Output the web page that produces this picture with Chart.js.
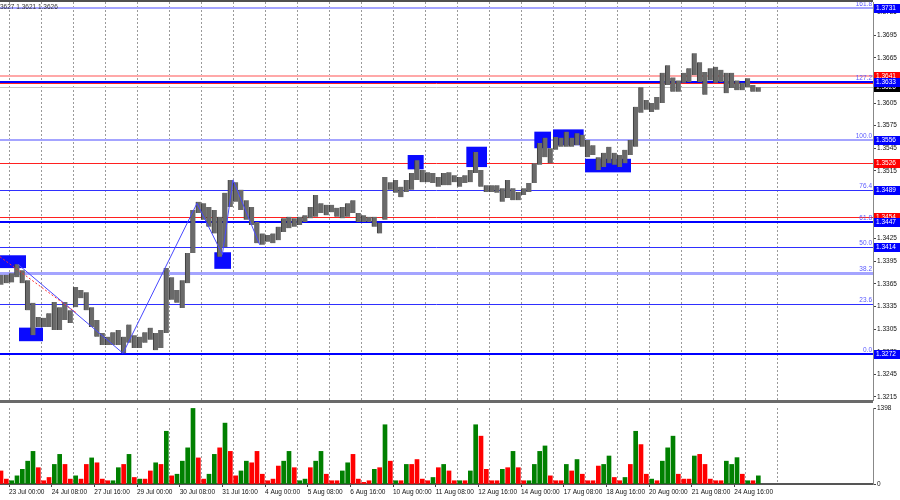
<!DOCTYPE html>
<html>
<head>
<meta charset="utf-8">
<script src="https://cdn.jsdelivr.net/npm/chart.js@4.4.0/dist/chart.umd.min.js"></script>
<style>
body { margin: 0; background: #fff; }
#wrap { position: relative; width: 900px; height: 500px; overflow: hidden; }
canvas { position: absolute; left: 0; }
#main { top: 0; }
#vol { top: 403px; }
</style>
</head>
<body>
<div id="wrap">
  <canvas id="main" width="900" height="403"></canvas>
  <canvas id="vol" width="900" height="97"></canvas>
</div>
<script>
// H1 bars, grouped in 4-hour buckets. Bar 0 = 23 Jul 00:00, first bucket starts at bar -8
const firstBucket = -2;

const lows = [
  1.3364, 1.3366, 1.3367, 1.3374, 1.3366, 1.3330, 1.3297, 1.3308,
  1.3308, 1.3308, 1.3304, 1.3304, 1.3317, 1.3313,
  1.3334, 1.3346, 1.3330, 1.3308, 1.3295, 1.3284,
  1.3284, 1.3284, 1.3284, 1.3273, 1.3287, 1.3280,
  1.3280, 1.3287, 1.3291, 1.3277, 1.3280, 1.3300,
  1.3344, 1.3340, 1.3333, 1.3366, 1.3406, 1.3459,
  1.3450, 1.3441, 1.3432, 1.3401, 1.3414, 1.3467,
  1.3474, 1.3463, 1.3450, 1.3443, 1.3419, 1.3417,
  1.3421, 1.3419, 1.3423, 1.3434, 1.3439, 1.3441,
  1.3443, 1.3447, 1.3452, 1.3454, 1.3459, 1.3456,
  1.3460, 1.3454, 1.3452, 1.3454, 1.3459, 1.3447,
  1.3447, 1.3447, 1.3441, 1.3432, 1.3450, 1.3490,
  1.3486, 1.3480, 1.3487, 1.3490, 1.3503, 1.3500,
  1.3500, 1.3499, 1.3494, 1.3496, 1.3496, 1.3500,
  1.3494, 1.3499, 1.3500, 1.3512, 1.3494, 1.3487,
  1.3487, 1.3486, 1.3474, 1.3479, 1.3476, 1.3476,
  1.3483, 1.3487, 1.3499, 1.3523, 1.3533, 1.3525,
  1.3543, 1.3547, 1.3547, 1.3547, 1.3549, 1.3547,
  1.3533, 1.3536, 1.3516, 1.3520, 1.3525, 1.3523,
  1.3520, 1.3525, 1.3536, 1.3547, 1.3592, 1.3596,
  1.3593, 1.3596, 1.3605, 1.3629, 1.3620, 1.3620,
  1.3632, 1.3633, 1.3642, 1.3633, 1.3616, 1.3635,
  1.3632, 1.3633, 1.3618, 1.3625, 1.3622, 1.3622,
  1.3626, 1.3620, 1.3620
];
const highs = [
  1.3377, 1.3377, 1.3379, 1.3391, 1.3383, 1.3370, 1.3340, 1.3321,
  1.3320, 1.3326, 1.3341, 1.3334, 1.3341, 1.3330,
  1.3361, 1.3357, 1.3354, 1.3334, 1.3317, 1.3300,
  1.3295, 1.3301, 1.3304, 1.3295, 1.3311, 1.3297,
  1.3295, 1.3301, 1.3307, 1.3300, 1.3304, 1.3386,
  1.3374, 1.3357, 1.3370, 1.3406, 1.3463, 1.3474,
  1.3472, 1.3467, 1.3463, 1.3454, 1.3486, 1.3503,
  1.3500, 1.3490, 1.3476, 1.3467, 1.3447, 1.3432,
  1.3430, 1.3432, 1.3441, 1.3452, 1.3454, 1.3452,
  1.3454, 1.3456, 1.3467, 1.3483, 1.3472, 1.3470,
  1.3470, 1.3466, 1.3467, 1.3472, 1.3476, 1.3459,
  1.3456, 1.3454, 1.3454, 1.3446, 1.3507, 1.3500,
  1.3503, 1.3494, 1.3503, 1.3512, 1.3529, 1.3516,
  1.3513, 1.3512, 1.3507, 1.3512, 1.3513, 1.3509,
  1.3507, 1.3509, 1.3516, 1.3540, 1.3516, 1.3496,
  1.3496, 1.3496, 1.3492, 1.3503, 1.3492, 1.3487,
  1.3492, 1.3499, 1.3525, 1.3552, 1.3559, 1.3545,
  1.3560, 1.3559, 1.3567, 1.3559, 1.3565, 1.3563,
  1.3556, 1.3549, 1.3533, 1.3539, 1.3547, 1.3539,
  1.3536, 1.3543, 1.3556, 1.3600, 1.3626, 1.3609,
  1.3605, 1.3613, 1.3645, 1.3655, 1.3639, 1.3635,
  1.3645, 1.3651, 1.3671, 1.3659, 1.3646, 1.3651,
  1.3653, 1.3649, 1.3645, 1.3645, 1.3635, 1.3632,
  1.3638, 1.3629, 1.3626
];
const volumes = [
  240, 90, 60, 150, 270, 420, 600, 300,
  60, 120, 360, 545, 360, 90,
  150, 90, 360, 480, 390, 90,
  60, 60, 300, 360, 545, 120,
  90, 90, 240, 390, 360, 970,
  150, 180, 420, 665, 1390, 480,
  90, 180, 545, 665, 1120, 600,
  150, 240, 420, 390, 600, 180,
  60, 90, 330, 420, 600, 300,
  60, 90, 300, 420, 600, 180,
  60, 60, 240, 390, 545, 90,
  30, 60, 270, 300, 1090, 420,
  60, 60, 360, 360, 450, 90,
  60, 120, 300, 360, 240, 60,
  60, 60, 240, 1090, 880, 270,
  60, 60, 270, 300, 600, 300,
  60, 60, 360, 600, 700, 150,
  60, 60, 360, 240, 450, 180,
  60, 60, 330, 360, 515, 120,
  60, 120, 360, 970, 725, 180,
  90, 60, 420, 665, 880, 180,
  90, 90, 515, 545, 360, 90,
  60, 60, 420, 360, 485, 180,
  60, 60, 150
];
// g = up bar, r = down bar
const volDir = ('rrgggggr' + 'rrggrr' + 'grrgrr' + 'rggrgr' + 'grrgrg' + 'rggggr' + 'rggrgr' +
  'rggrrr' + 'rrrggr' + 'ggrggr' + 'rrggrr' + 'rrgrgr' + 'grgrrr' + 'rgrgrr' + 'grggrr' +
  'rrgrgr' + 'rggggr' + 'rrgrgr' + 'rrrggr' + 'rgrgrr' + 'grgggr' + 'rrgrrr' + 'rrgggr' + 'grg').split('');

// zigzag and trend line (bar index, price)
const zigBars = [6.75, 85.5, 141, 160, 168, 188];
const zigPrices = [1.3391, 1.3273, 1.3472, 1.3404, 1.3503, 1.3417];
const trendBars = [-6.75, 51];
const trendPrices = [1.3401, 1.3326];

// blue zones
const boxStart = [-7, 7.5, 154, 299, 343, 394, 408, 432];
const boxEnd = [12.75, 25.5, 166.5, 311, 358.5, 406.5, 431, 466.5];
const boxTop = [1.3403, 1.3307, 1.3407, 1.3536, 1.3547, 1.3567, 1.3570, 1.3531];
const boxBottom = [1.3386, 1.3289, 1.3385, 1.3517, 1.3520, 1.3545, 1.3549, 1.3513];

// levels
const fiboPrices = [1.3272, 1.3339, 1.3380, 1.3414, 1.3447, 1.3489, 1.3556, 1.3633, 1.3731];
const fiboNames = ['0.0', '23.6', '38.2', '50.0', '61.8', '76.4', '100.0', '127.2', '161.8'];
const redLevels = [1.3641, 1.3631, 1.3526, 1.3454];
const bidPrice = 1.3626;
const blueTags = [1.3731, 1.3633, 1.3556, 1.3489, 1.3447, 1.3414, 1.3272];
const redTags = [1.3641, 1.3526, 1.3454];

// axes
const priceTicks = [1.3215, 1.3245, 1.3275, 1.3305, 1.3335, 1.3365, 1.3395, 1.3425, 1.3455,
  1.3485, 1.3515, 1.3545, 1.3575, 1.3605, 1.3635, 1.3665, 1.3695, 1.3725];
const volTicks = [0, 1398];
const labelBars = [0, 32, 64, 96, 128, 160, 192, 224, 256, 288, 320, 352, 384, 416, 448, 480, 512, 544];
const timeLabels = ['23 Jul 00:00', '24 Jul 08:00', '27 Jul 16:00', '29 Jul 00:00', '30 Jul 08:00',
  '31 Jul 16:00', '4 Aug 00:00', '5 Aug 08:00', '6 Aug 16:00', '10 Aug 00:00', '11 Aug 08:00',
  '12 Aug 16:00', '14 Aug 00:00', '17 Aug 08:00', '18 Aug 16:00', '20 Aug 00:00', '21 Aug 08:00',
  '24 Aug 16:00'];
const headerText = '3627 1.3621 1.3626';

const X_MIN = -6.75, X_MAX = 648;
const FONT = 'Liberation Sans';
const bucketCenter = i => (firstBucket + i) * 4 + 2;

// fibo line styles by level index
const fiboStyle = [
  ['#0000ff', 2], ['#2f2fff', 1], ['#a4a4ff', 3], ['#2f2fff', 1], ['#0000ff', 2],
  ['#2f2fff', 1], ['#a4a4ff', 2], ['#0000ff', 2], ['#a4a4ff', 2]
];

function dayGrid(chart) {
  const ctx = chart.ctx, x = chart.scales.x, a = chart.chartArea;
  ctx.save();
  ctx.strokeStyle = '#9a9a9a';
  ctx.lineWidth = 1;
  ctx.setLineDash([2, 2]);
  for (let k = 0; k <= 24; k++) {
    const px = Math.round(x.getPixelForValue(k * 24)) + 0.5;
    ctx.beginPath();
    ctx.moveTo(px, a.top);
    ctx.lineTo(px, a.bottom);
    ctx.stroke();
  }
  ctx.restore();
}

function hline(ctx, a, py, color, w) {
  ctx.strokeStyle = color;
  ctx.lineWidth = w;
  const yy = w % 2 ? Math.round(py) + 0.5 : Math.round(py);
  ctx.beginPath();
  ctx.moveTo(a.left, yy);
  ctx.lineTo(a.right, yy);
  ctx.stroke();
}

function tag(ctx, a, py, price, bg) {
  ctx.fillStyle = bg;
  ctx.fillRect(a.right + 1, Math.round(py) - 4, 26, 9);
  ctx.fillStyle = '#fff';
  ctx.font = '6.5px ' + FONT;
  ctx.textBaseline = 'middle';
  ctx.textAlign = 'left';
  ctx.fillText(price.toFixed(4), a.right + 3, Math.round(py) + 0.5);
}

const mainPlugin = {
  id: 'mainPlugin',
  beforeDatasetsDraw(chart) {
    const ctx = chart.ctx, x = chart.scales.x, y = chart.scales.y, a = chart.chartArea;
    dayGrid(chart);
    ctx.save();
    hline(ctx, a, y.getPixelForValue(bidPrice), '#c4c4c4', 1);
    fiboPrices.forEach((p, i) => hline(ctx, a, y.getPixelForValue(p), fiboStyle[i][0], fiboStyle[i][1]));
    hline(ctx, a, y.getPixelForValue(redLevels[0]), '#ffa8a8', 2);
    redLevels.slice(1).forEach(p => hline(ctx, a, y.getPixelForValue(p), '#ff2020', 1));
    ctx.font = '6.5px ' + FONT;
    ctx.fillStyle = '#5a5aff';
    ctx.textAlign = 'right';
    ctx.textBaseline = 'bottom';
    fiboPrices.forEach((p, i) => ctx.fillText(fiboNames[i], a.right - 1, Math.round(y.getPixelForValue(p)) - 1));
    // zones
    ctx.fillStyle = '#0a0aff';
    boxStart.forEach((s, i) => {
      const x0 = x.getPixelForValue(s), x1 = x.getPixelForValue(boxEnd[i]);
      const y0 = y.getPixelForValue(boxTop[i]), y1 = y.getPixelForValue(boxBottom[i]);
      ctx.fillRect(x0, y0, x1 - x0, y1 - y0);
    });
    ctx.restore();
  },
  afterDraw(chart) {
    const ctx = chart.ctx, y = chart.scales.y, a = chart.chartArea;
    ctx.save();
    // frame
    ctx.fillStyle = '#505050';
    ctx.fillRect(0, 0, a.right, 2);
    ctx.fillStyle = '#6a6a6a';
    ctx.fillRect(0, 400, a.right, 3);
    // price tags on the scale
    tag(ctx, a, y.getPixelForValue(bidPrice), bidPrice, '#000');
    redTags.forEach(p => tag(ctx, a, y.getPixelForValue(p), p, '#ff0000'));
    blueTags.forEach(p => tag(ctx, a, y.getPixelForValue(p), p, '#0000ff'));
    ctx.fillStyle = '#333';
    ctx.font = '6.5px ' + FONT;
    ctx.textAlign = 'left';
    ctx.textBaseline = 'middle';
    ctx.fillText(headerText, 0, 7);
    ctx.restore();
  }
};

new Chart(document.getElementById('main'), {
  type: 'bar',
  data: {
    datasets: [
      {
        type: 'line',
        data: trendBars.map((b, i) => ({ x: b, y: trendPrices[i] })),
        borderColor: '#ff3030', borderWidth: 1, borderDash: [2, 2], pointRadius: 0, order: 0
      },
      {
        type: 'line',
        data: zigBars.map((b, i) => ({ x: b, y: zigPrices[i] })),
        borderColor: '#4848ff', borderWidth: 1, pointRadius: 0, order: 1
      },
      {
        type: 'bar',
        data: lows.map((lo, i) => ({ x: bucketCenter(i), y: [lo, highs[i]] })),
        backgroundColor: '#6a6a6a', borderColor: '#3c3c3c', borderWidth: { left: 1, right: 0, top: 0, bottom: 0 },
        borderSkipped: false, barThickness: 5, order: 2
      }
    ]
  },
  options: {
    responsive: false,
    animation: false,
    devicePixelRatio: 1,
    layout: { padding: { top: 2, bottom: 3, left: 0, right: 0 } },
    plugins: { legend: { display: false }, tooltip: { enabled: false } },
    scales: {
      x: { type: 'linear', min: X_MIN, max: X_MAX, offset: false, bounds: 'data', display: false, grid: { offset: false } },
      y: {
        position: 'right',
        min: 1.32110,
        max: 1.37390,
        afterBuildTicks: s => { s.ticks = priceTicks.map(v => ({ value: v })); },
        afterFit: s => { s.width = 27; s.paddingTop = 0; s.paddingBottom = 0; },
        ticks: { callback: v => v.toFixed(4), font: { family: FONT, size: 6.5 }, color: '#111', padding: 1 },
        grid: { drawOnChartArea: false, tickLength: 3, color: '#444' },
        border: { color: '#888', width: 1 }
      }
    }
  },
  plugins: [mainPlugin]
});

const volPlugin = {
  id: 'volPlugin',
  beforeDatasetsDraw(chart) { dayGrid(chart); }
};

new Chart(document.getElementById('vol'), {
  type: 'bar',
  data: {
    datasets: [{
      data: volumes.map((v, i) => ({ x: bucketCenter(i), y: v })),
      backgroundColor: volDir.map(d => d === 'g' ? '#008000' : '#ff0000'),
      barThickness: 4
    }]
  },
  options: {
    responsive: false,
    animation: false,
    devicePixelRatio: 1,
    layout: { padding: { top: 5, bottom: 0, left: 0, right: 0 } },
    plugins: { legend: { display: false }, tooltip: { enabled: false } },
    scales: {
      x: {
        type: 'linear', min: X_MIN, max: X_MAX, offset: false, bounds: 'data',
        afterBuildTicks: s => { s.ticks = labelBars.map(v => ({ value: v })); },
        afterFit: s => { s.height = 16; s.paddingLeft = 0; s.paddingRight = 0; },
        ticks: {
          autoSkip: false, maxRotation: 0, minRotation: 0, align: 'start', padding: 1,
          callback: (v, i) => timeLabels[i], font: { family: FONT, size: 6.5 }, color: '#111'
        },
        grid: { drawOnChartArea: false, tickLength: 3, color: '#444', offset: false },
        border: { color: '#555', width: 2 }
      },
      y: {
        position: 'right', min: 0, max: 1398,
        afterBuildTicks: s => { s.ticks = volTicks.map(v => ({ value: v })); },
        afterFit: s => { s.width = 27; s.paddingTop = 0; s.paddingBottom = 0; },
        ticks: { callback: v => String(v), font: { family: FONT, size: 6.5 }, color: '#111', padding: 1 },
        grid: { drawOnChartArea: false, tickLength: 3, color: '#444' },
        border: { color: '#888', width: 1 }
      }
    }
  },
  plugins: [volPlugin]
});
</script>
</body>
</html>
